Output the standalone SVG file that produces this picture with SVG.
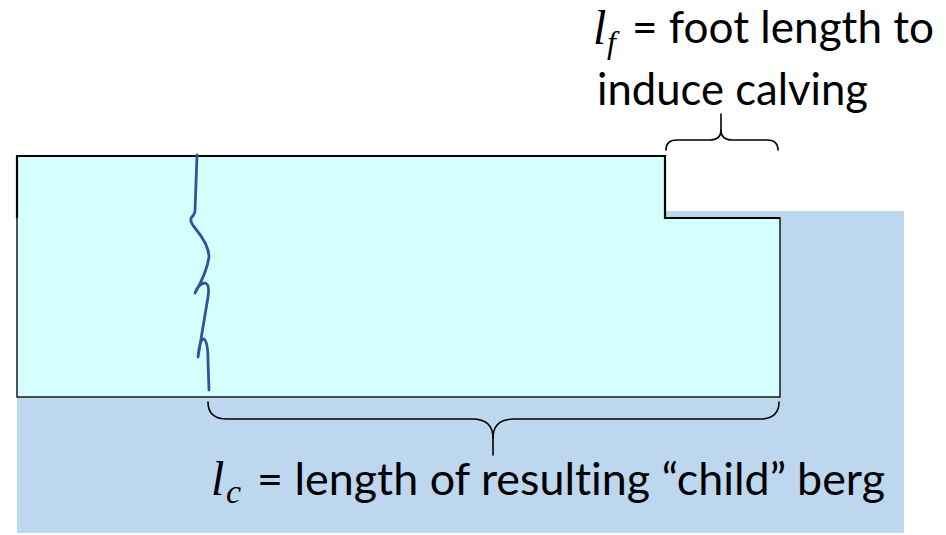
<svg xmlns="http://www.w3.org/2000/svg" width="946" height="535" viewBox="0 0 946 535">
<style>
.txt{font-family:Lato,"Liberation Sans",sans-serif;font-size:44px;fill:#000;font-variant-ligatures:none;font-feature-settings:"liga" 0,"clig" 0}
.math{font-family:"Liberation Serif","DejaVu Serif",serif;font-style:italic;fill:#000}
.brace{fill:none;stroke:#000;stroke-width:1.6;stroke-linecap:round;stroke-linejoin:round}
.crack{fill:none;stroke:#2F5597;stroke-width:2.8;stroke-linecap:round;stroke-linejoin:round}
</style>
<rect width="946" height="535" fill="#ffffff"/>
<g id="water">
<rect x="17" y="211" width="887" height="322" fill="#BDD7EE"/>
</g>
<g id="iceberg">
<path d="M17,156 L665,156 L665,218 L780,218 L780,397 L17,397 Z" fill="#D5FFFF" stroke="#1a1a1a" stroke-width="1.5"/>
<path d="M17,218 L17,156 L665,156 L665,218 L780,218" fill="none" stroke="#000" stroke-width="2.2"/>
</g>
<g id="crack">
<path class="crack" d="M197,155 L195,211 Q194,216 191,218 Q190,222 195,228 Q209,245 209,257 Q207,272 195,293 Q199,283 205,283 Q210,284 208,297 L198,357 Q200,338 204,339 Q208,342 208,360 L209,390"/>
</g>
<g id="connectors">
<path class="brace" d="M666,150 Q666,140 677,140 L710,140 Q721,140 721,130 Q721,140 732,140 L767,140 Q778,140 778,150"/>
<path class="brace" d="M721,131 L721,114" stroke-width="1.2"/>
<path class="brace" d="M208,402 Q208,419 227,419 L472,419 Q493,419 493,438 Q493,419 514,419 L760,419 Q779,419 779,402"/>
<path class="brace" d="M493,436 L493,455" stroke-width="1.2"/>
</g>
<g id="label-foot">
<text class="math" x="593" y="44" font-size="48">l</text>
<text class="math" x="607" y="53" font-size="32">f</text>
<text class="txt" x="632" y="43" textLength="302" lengthAdjust="spacingAndGlyphs">= foot length to</text>
<text class="txt" x="597" y="105" textLength="271" lengthAdjust="spacingAndGlyphs">induce calving</text>
</g>
<g id="label-child">
<text class="math" x="211" y="495" font-size="48">l</text>
<text class="math" x="226" y="503" font-size="34">c</text>
<text class="txt" x="257" y="495" textLength="628" lengthAdjust="spacingAndGlyphs">= length of resulting “child” berg</text>
</g>
</svg>
